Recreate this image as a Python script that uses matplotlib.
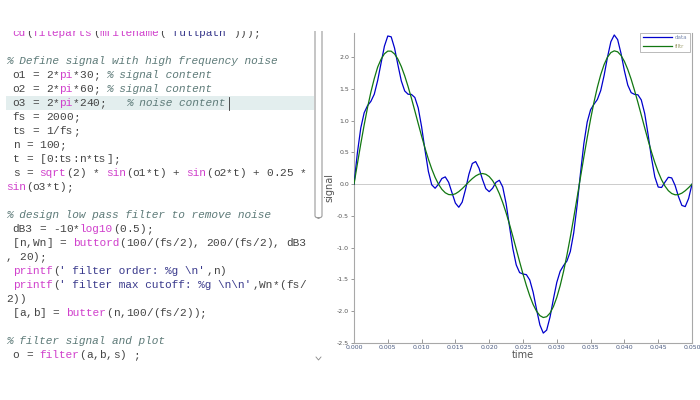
import re
import numpy as np
import matplotlib
matplotlib.use('Agg')
import matplotlib.pyplot as plt
from matplotlib.patches import Rectangle, FancyBboxPatch
from matplotlib.lines import Line2D

# ── Data (fs = 2000, 101 samples over 0.05 s) ────────────────────────────
fs = 2000
data = [0.000, 0.492, 0.883, 1.123, 1.236, 1.304, 1.417, 1.632, 1.904, 2.173,
        2.333, 2.320, 2.142, 1.876, 1.625, 1.468, 1.416, 1.413, 1.365, 1.200,
        0.904, 0.538, 0.202, -0.010, -0.064, 0.000, 0.090, 0.115, 0.030, -0.136,
        -0.298, -0.363, -0.283, -0.081, 0.157, 0.326, 0.356, 0.250, 0.076, -0.070,
        -0.118, -0.064, 0.029, 0.062, -0.044, -0.304, -0.662, -1.015, -1.271, -1.392,
        -1.414, -1.424, -1.508, -1.701, -1.968, -2.216, -2.344, -2.297, -2.091, -1.807,
        -1.545, -1.370, -1.281, -1.209, -1.060, -0.768, -0.335, 0.169, 0.637, 0.980,
        1.172, 1.259, 1.333, 1.475, 1.713, 2.000, 2.243, 2.349, 2.276, 2.058,
        1.786, 1.560, 1.441, 1.414, 1.407, 1.326, 1.114, 0.785, 0.417, 0.115,
        -0.045, -0.052, 0.032, 0.109, 0.099, -0.020, -0.195, -0.334, -0.353, -0.225,
        0.000]
filtered = [0.000, 0.320, 0.633, 0.930, 1.205, 1.451, 1.663, 1.843, 1.966, 2.053,
            2.095, 2.094, 2.050, 1.968, 1.852, 1.706, 1.537, 1.351, 1.154, 0.954,
            0.757, 0.569, 0.395, 0.240, 0.107, 0.000, -0.081, -0.135, -0.163, -0.167,
            -0.151, -0.117, -0.071, -0.018, 0.037, 0.088, 0.130, 0.158, 0.168, 0.156,
            0.120, 0.057, -0.033, -0.149, -0.289, -0.451, -0.630, -0.822, -1.021, -1.221,
            -1.414, -1.595, -1.757, -1.894, -1.999, -2.069, -2.099, -2.086, -2.029, -1.927,
            -1.782, -1.596, -1.373, -1.116, -0.833, -0.530, -0.214, 0.107, 0.426, 0.734,
            1.025, 1.291, 1.526, 1.725, 1.884, 2.000, 2.072, 2.099, 2.084, 2.027,
            1.933, 1.806, 1.652, 1.476, 1.286, 1.088, 0.888, 0.693, 0.509, 0.341,
            0.193, 0.069, -0.030, -0.102, -0.147, -0.167, -0.164, -0.141, -0.103, -0.054,
            0.000]
series_labels = ['data', 'filtr']
x_ticks = [0.000, 0.005, 0.010, 0.015, 0.020, 0.025, 0.030, 0.035, 0.040, 0.045, 0.050]
y_ticks = [-2.5, -2.0, -1.5, -1.0, -0.5, 0.0, 0.5, 1.0, 1.5, 2.0]

# editor text shown on the left
code_lines = [
    " cd(fileparts(mfilename('fullpath')));",
    "",
    "% Define signal with high frequency noise",
    " o1 = 2*pi*30; % signal content",
    " o2 = 2*pi*60; % signal content",
    " o3 = 2*pi*240;   % noise content",
    " fs = 2000;",
    " ts = 1/fs;",
    " n = 100;",
    " t = [0:ts:n*ts];",
    " s = sqrt(2) * sin(o1*t) + sin(o2*t) + 0.25 *",
    "sin(o3*t);",
    "",
    "% design low pass filter to remove noise",
    " dB3 = -10*log10(0.5);",
    " [n,Wn] = buttord(100/(fs/2), 200/(fs/2), dB3",
    ", 20);",
    " printf(' filter order: %g \\n',n)",
    " printf(' filter max cutoff: %g \\n\\n',Wn*(fs/",
    "2))",
    " [a,b] = butter(n,100/(fs/2));",
    "",
    "% filter signal and plot",
    " o = filter(a,b,s) ;",
]
keywords = {'cd', 'fileparts', 'mfilename', 'pi', 'sqrt', 'sin', 'log10',
            'buttord', 'printf', 'butter', 'filter'}

W, H = 700, 400
fig = plt.figure(figsize=(7, 4), dpi=100)
fig.patch.set_facecolor('white')


def px(x, y):
    return x / W, 1 - y / H


def tokens(line):
    out = []
    i = 0
    while i < len(line):
        ch = line[i]
        if ch == '%':
            out.append((i, line[i:], 'comment'))
            break
        if ch == "'":
            j = line.find("'", i + 1)
            j = len(line) - 1 if j < 0 else j
            out.append((i, line[i:j + 1], 'string'))
            i = j + 1
            continue
        m = re.match(r'[A-Za-z_][A-Za-z0-9_]*', line[i:])
        if m:
            word = m.group(0)
            out.append((i, word, 'kw' if word in keywords else 'plain'))
            i += len(word)
            continue
        out.append((i, ch, 'plain'))
        i += 1
    return out


styles = {
    'plain': dict(color='#444444'),
    'kw': dict(color='#d040cc'),
    'string': dict(color='#3a3a8c'),
    'comment': dict(color='#5d7a78', style='italic'),
}

# current-line highlight and cursor
fig.patches.append(Rectangle(px(6, 110), 308 / W, 14 / H, transform=fig.transFigure,
                             facecolor='#e3eeee', edgecolor='none', zorder=1))
fig.lines.append(Line2D([229 / W] * 2, [1 - 97 / H, 1 - 110 / H], transform=fig.transFigure,
                        color='#333333', lw=0.6, zorder=2))

char_w = 6.67
for row, line in enumerate(code_lines):
    base = 36 + 14 * row
    for col, txt, kind in tokens(line):
        if txt.strip() == '':
            continue
        x, y = px(6 + col * char_w, base)
        fig.text(x, y, txt, fontsize=8, family='Liberation Mono', va='baseline',
                 ha='left', zorder=3, **styles[kind])

# scrollbar thumb and arrow
fig.patches.append(FancyBboxPatch(px(315, 218), 7 / W, 190 / H, transform=fig.transFigure,
                                  boxstyle='round,pad=0,rounding_size=0.006',
                                  facecolor='white', edgecolor='#9a9a9a', lw=0.8, zorder=2))
fig.lines.append(Line2D([316 / W, 318.5 / W, 321 / W], [1 - 357 / H, 1 - 360 / H, 1 - 357 / H],
                        transform=fig.transFigure, color='#888888', lw=0.6, zorder=2))

# ── Plot ───────────────────────────────────────────────────────────────
ax = fig.add_axes([354 / W, 57 / H, 338 / W, 310 / H])
t = np.linspace(0, 0.05, len(data))
ax.plot(t, data, color='#0000cc', lw=0.9, label=series_labels[0], zorder=3)
ax.plot(t, filtered, color='#117711', lw=0.9, label=series_labels[1], zorder=4)
ax.axhline(0, color='#cccccc', lw=0.7, zorder=1)

ax.set_xlim(0, 0.05)
ax.set_ylim(-2.5, 2.38)
ax.set_xticks(x_ticks)
ax.set_xticklabels([f'{v:.3f}' for v in x_ticks])
ax.set_yticks(y_ticks)
ax.set_yticklabels([f'{v:.1f}' for v in y_ticks])
ax.tick_params(axis='x', direction='in', length=3, width=0.6, color='#888888',
               labelsize=4.5, labelcolor='#4a5a80', pad=1.5)
ax.tick_params(axis='y', direction='out', length=2.5, width=0.6, color='#888888',
               labelsize=4.5, labelcolor='#555555', pad=1)
for side in ['left', 'bottom', 'right']:
    ax.spines[side].set_color('#a8a8a8')
    ax.spines[side].set_linewidth(0.8)
ax.spines['top'].set_visible(False)

ax.set_xlabel('time', fontsize=7, color='#555555', labelpad=0)
ax.set_ylabel('signal', fontsize=7, color='#555555', labelpad=2)

leg = ax.legend(loc='lower right', bbox_to_anchor=(0.994, 0.9387), fontsize=4,
                handlelength=5.2, handletextpad=0.5, borderpad=0.5, labelspacing=0.7,
                borderaxespad=0, frameon=True, fancybox=False, framealpha=1)
leg.get_frame().set_edgecolor('#b0b0b0')
leg.get_frame().set_linewidth(0.6)
for txt, c in zip(leg.get_texts(), ['#7a8ab0', '#a0a070']):
    txt.set_color(c)

# top of the screenshot is cut off
fig.patches.append(Rectangle((0, 1 - 31 / H), 1, 31 / H, transform=fig.transFigure,
                             facecolor='white', edgecolor='none', zorder=20))

fig.savefig('out.png', dpi=100)
